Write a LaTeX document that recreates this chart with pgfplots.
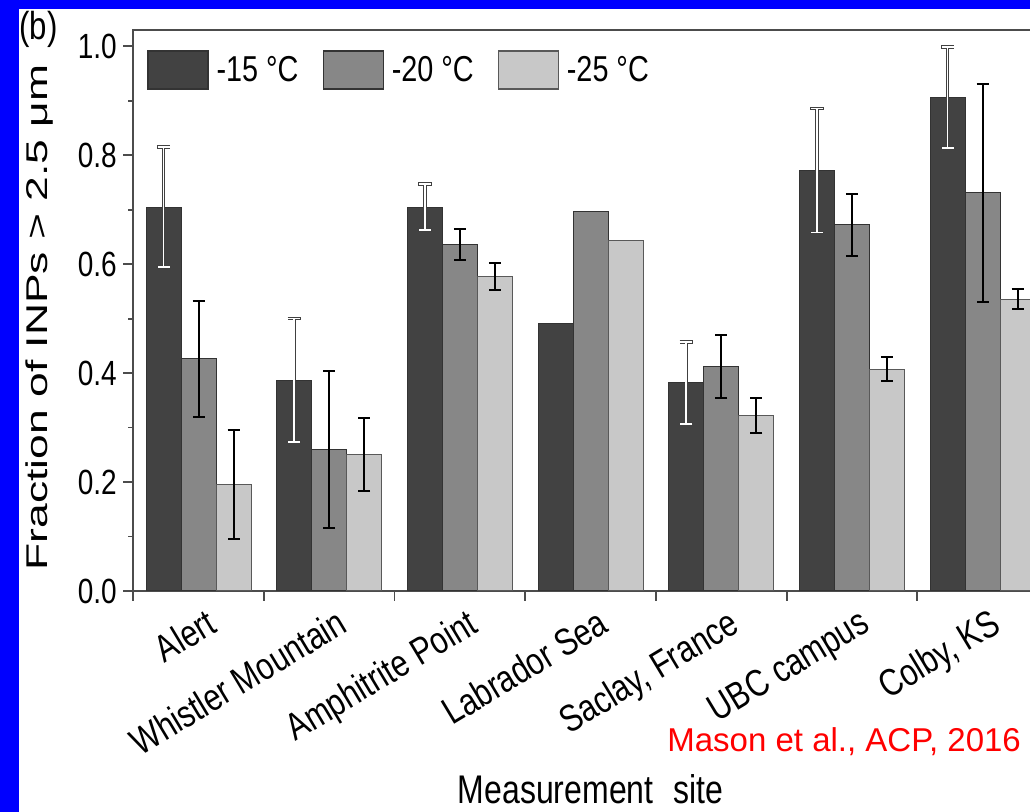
\documentclass[border=0pt]{standalone}
\usepackage{fontspec}
\setmainfont[FakeStretch=0.8]{Liberation Sans}
\newfontfamily\plainsans{Liberation Sans}
\usepackage{graphicx}
\usepackage{pgfplots}
\pgfplotsset{compat=1.18}
\definecolor{cdark}{HTML}{424242}
\definecolor{cmed}{HTML}{878787}
\definecolor{clight}{HTML}{C8C8C8}
\definecolor{slideblue}{RGB}{0,0,255}
\pgfplotsset{
  mybarlegend/.style={legend image code/.code={\draw[##1,line width=0.6pt] (0pt,-9.5pt) rectangle (30pt,9.5pt);}},
  errdark/.style={forget plot, draw=none, mark=none,
    error bars/.cd, y dir=both, y explicit,
    error bar style={draw=black!75, line width=1.7pt},
    error mark options={rotate=90, mark size=3.3pt, draw=black!75, line width=1.7pt}},
  errdarkcore/.style={forget plot, draw=none, mark=none,
    error bars/.cd, y dir=both, y explicit,
    error bar style={draw=white, line width=0.8pt},
    error mark options={rotate=90, mark size=3pt, draw=white, line width=0.8pt}},
  errblack/.style={forget plot, draw=none, mark=none,
    error bars/.cd, y dir=both, y explicit,
    error bar style={draw=black, line width=1pt},
    error mark options={rotate=90, mark size=3pt, draw=black, line width=1pt}},
}
\begin{document}
\begin{tikzpicture}[x=1pt,y=1pt]
\fill[white] (0,0) rectangle (515,406);
\begin{scope}
\clip (0,0) rectangle (515,406);
\begin{axis}[
  at={(66.6pt,110.5pt)}, anchor=south west,
  scale only axis, width=457.4pt, height=280.5pt,
  xmin=0.5, xmax=7.5, ymin=0, ymax=1.03,
  axis line style={draw=black!70, line width=0.9pt},
  tick align=outside, tick pos=left,
  xtick={1,2,3,4,5,6,7},
  xticklabels={Alert, Whistler Mountain, Amphitrite Point, Labrador Sea, {Saclay, France}, UBC campus, {Colby, KS}},
  minor xtick={0.5,1.5,2.5,3.5,4.5,5.5,6.5,7.5},
  major x tick style={draw=none},
  ytick={0,0.2,0.4,0.6,0.8,1.0},
  minor ytick={0.1,0.3,0.5,0.7,0.9},
  major tick length=5pt, minor tick length=5pt,
  minor y tick style={/pgfplots/minor tick length=2.5pt},
  every tick/.style={black!70, line width=0.9pt},
  /pgf/number format/fixed, /pgf/number format/fixed zerofill,
  /pgf/number format/precision=1, /pgf/number format/assume math mode=true,
  yticklabel style={font=\fontsize{17.5}{20}\selectfont, inner xsep=3pt},
  xticklabel style={rotate=31, anchor=north east, inner sep=0pt, font=\fontsize{19}{21}\selectfont, xshift=1pt, yshift=-4pt},
  xlabel={Measurement\hspace{0.5em}site},
  xlabel style={at={(axis description cs:0.5,0)}, anchor=base, yshift=-106.5pt, font=\fontsize{20}{24}\selectfont},
  ylabel={\plainsans\fontsize{15}{18}\selectfont\scalebox{1.48}[1]{Fraction of INPs > 2.5 μm}},
  ylabel style={at={(axis description cs:-0.1019,0.4875)}, anchor=center},
  legend columns=3,
  legend style={at={(axis description cs:0.0151,0.9643)}, anchor=north west, draw=none, fill=none,
    inner sep=0pt, font=\fontsize{18}{20}\selectfont, nodes={inner sep=0pt},
    /tikz/every odd column/.append style={column sep=4pt},
    /tikz/every even column/.append style={column sep=12pt}},
]
\addplot[ybar, bar width=17.5pt, bar shift=-17.5pt, fill=cdark, draw=black!80, line width=0.5pt, mybarlegend]
  coordinates {(1,0.705) (2,0.387) (3,0.705) (4,0.491) (5,0.382) (6,0.772) (7,0.906)};
\addlegendentry{-15 °C}
\addplot[ybar, bar width=17.5pt, bar shift=0pt, fill=cmed, draw=black!80, line width=0.5pt, mybarlegend]
  coordinates {(1,0.426) (2,0.259) (3,0.636) (4,0.697) (5,0.412) (6,0.672) (7,0.731)};
\addlegendentry{-20 °C}
\addplot[ybar, bar width=17.5pt, bar shift=17.5pt, fill=clight, draw=black!65, line width=0.5pt, mybarlegend]
  coordinates {(1,0.196) (2,0.251) (3,0.577) (4,0.643) (5,0.322) (6,0.407) (7,0.536)};
\addlegendentry{-25 °C}
% error bars (-15 C), drawn at the centre of the left bar of each group: dark outline, white core
\addplot[errdark] coordinates {(0.7322,0.705) +- (0,0.110) (1.7322,0.387) +- (0,0.113) (2.7322,0.705) +- (0,0.042)
  (4.7322,0.382) +- (0,0.075) (5.7322,0.772) +- (0,0.114) (6.7322,0.906) +- (0,0.093)};
\addplot[errdarkcore] coordinates {(0.7322,0.705) +- (0,0.110) (1.7322,0.387) +- (0,0.113) (2.7322,0.705) +- (0,0.042)
  (4.7322,0.382) +- (0,0.075) (5.7322,0.772) +- (0,0.114) (6.7322,0.906) +- (0,0.093)};
% error bars (-20 C), middle bar
\addplot[errblack] coordinates {(1,0.426) +- (0,0.107) (2,0.259) +- (0,0.144) (3,0.636) +- (0,0.028)
  (5,0.412) +- (0,0.058) (6,0.672) +- (0,0.057) (7,0.731) +- (0,0.200)};
% error bars (-25 C), right bar
\addplot[errblack] coordinates {(1.2678,0.196) +- (0,0.100) (2.2678,0.251) +- (0,0.067) (3.2678,0.577) +- (0,0.025)
  (5.2678,0.322) +- (0,0.032) (6.2678,0.407) +- (0,0.022) (7.2678,0.536) +- (0,0.018)};
\end{axis}
\end{scope}
\fill[slideblue] (0,0) rectangle (9.5,406);
\fill[slideblue] (0,401.5) rectangle (515,406);
\node[anchor=base west, inner sep=0pt, font=\fontsize{19.5}{21}\selectfont] at (9.5,386) {(b)};
\node[anchor=base west, inner sep=0pt, text=red, font=\plainsans\fontsize{16.5}{19}\selectfont] at (333.5,30) {Mason et al., ACP, 2016};
\pgfresetboundingbox
\useasboundingbox (0,0) rectangle (515,406);
\end{tikzpicture}
\end{document}
